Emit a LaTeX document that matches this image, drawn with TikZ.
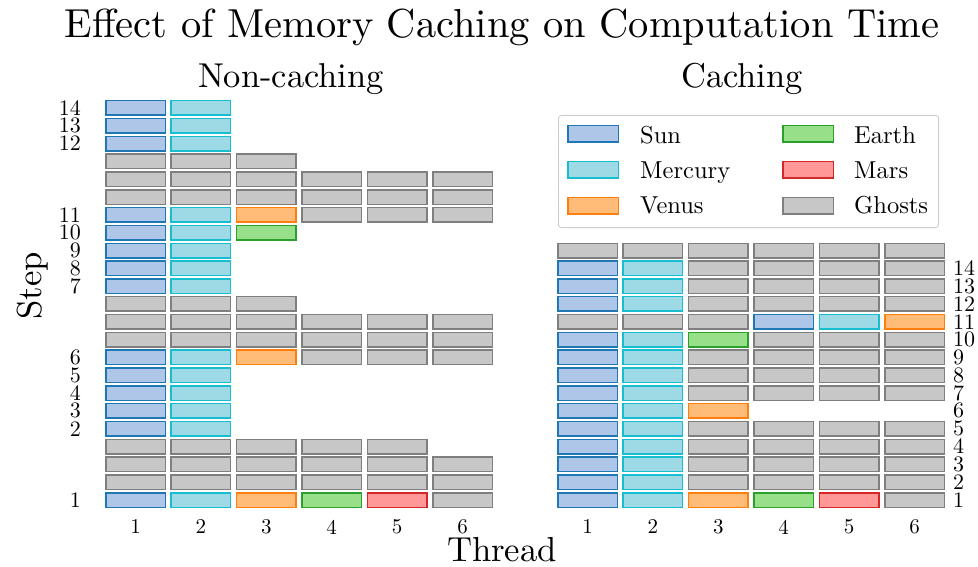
\documentclass[tikz,border=0pt]{standalone}
\usepackage{graphicx}
\usepackage{tikz}
\usetikzlibrary{positioning,calc}
\definecolor{sunline}{RGB}{31,119,180}
\definecolor{sunfill}{RGB}{174,199,232}
\definecolor{mercline}{RGB}{23,190,207}
\definecolor{mercfill}{RGB}{158,218,229}
\definecolor{venline}{RGB}{255,127,14}
\definecolor{venfill}{RGB}{255,187,120}
\definecolor{earthline}{RGB}{44,160,44}
\definecolor{earthfill}{RGB}{152,223,138}
\definecolor{marsline}{RGB}{214,39,40}
\definecolor{marsfill}{RGB}{255,152,150}
\definecolor{ghostline}{RGB}{127,127,127}
\definecolor{ghostfill}{RGB}{199,199,199}
\newlength{\bw}
\setlength{\bw}{59.5pt}
\newlength{\bh}
\setlength{\bh}{14.5pt}
% 10pt design size, scaled up
\newcommand{\cm}[2]{\scalebox{#1}{#2}}
\tikzset{
  cell/.style    ={draw,rectangle,line width=1.5pt,
                   minimum width=\bw,minimum height=\bh,inner sep=0pt},
  sun/.style     ={cell,draw=sunline,fill=sunfill},
  mercury/.style ={cell,draw=mercline,fill=mercfill},
  venus/.style   ={cell,draw=venline,fill=venfill},
  earth/.style   ={cell,draw=earthline,fill=earthfill},
  mars/.style    ={cell,draw=marsline,fill=marsfill},
  ghost/.style   ={cell,draw=ghostline,fill=ghostfill},
  swatch/.style  ={minimum width=50.5pt,minimum height=16.5pt},
  txt/.style     ={font=\fontsize{10}{12}\selectfont,inner sep=0pt},
  ttl/.style     ={txt,anchor=base},
  ticklab/.style ={txt},
  legtxt/.style  ={txt,anchor=base west}
}

\begin{document}
\begin{tikzpicture}[x=1pt,y=-1pt]
\useasboundingbox (0,0) rectangle (978,567);

\def\lx{135.5}
\def\rx{587.5}
\def\dx{65.4}
\def\dy{17.82}

\node[ttl] (title)   at (502,37.7) {\cm{4.05}{Effect of Memory Caching on Computation Time}};
\node[ttl] (nctitle) at (291,88) {\cm{3.45}{Non-caching}};
\node[ttl] (ctitle)  at (742,88) {\cm{3.45}{Caching}};

% non-caching panel
\foreach \r/\cells in {
    0/{sun,mercury,venus,earth,mars,ghost},
    1/{ghost,ghost,ghost,ghost,ghost,ghost},
    2/{ghost,ghost,ghost,ghost,ghost,ghost},
    3/{ghost,ghost,ghost,ghost,ghost},
    4/{sun,mercury}, 5/{sun,mercury}, 6/{sun,mercury}, 7/{sun,mercury},
    8/{sun,mercury,venus,ghost,ghost,ghost},
    9/{ghost,ghost,ghost,ghost,ghost,ghost},
    10/{ghost,ghost,ghost,ghost,ghost,ghost},
    11/{ghost,ghost,ghost},
    12/{sun,mercury}, 13/{sun,mercury}, 14/{sun,mercury},
    15/{sun,mercury,earth},
    16/{sun,mercury,venus,ghost,ghost,ghost},
    17/{ghost,ghost,ghost,ghost,ghost,ghost},
    18/{ghost,ghost,ghost,ghost,ghost,ghost},
    19/{ghost,ghost,ghost},
    20/{sun,mercury}, 21/{sun,mercury}, 22/{sun,mercury}}
  \foreach \k [count=\c] in \cells
    \node[\k] (nc-\r-\c) at ({\lx+(\c-1)*\dx},{500-\r*\dy}) {};

\foreach \r/\s in {0/1,4/2,5/3,6/4,7/5,8/6,12/7,13/8,14/9,15/10,16/11,20/12,21/13,22/14}
  \node[ticklab,anchor=east] (ncstep-\s) at (81,{500-\r*\dy}) {\cm{2.2}{\s}};

% caching panel
\foreach \r/\cells in {
    0/{sun,mercury,venus,earth,mars,ghost},
    1/{sun,mercury,ghost,ghost,ghost,ghost},
    2/{sun,mercury,ghost,ghost,ghost,ghost},
    3/{sun,mercury,ghost,ghost,ghost,ghost},
    4/{sun,mercury,ghost,ghost,ghost,ghost},
    5/{sun,mercury,venus},
    6/{sun,mercury,ghost,ghost,ghost,ghost},
    7/{sun,mercury,ghost,ghost,ghost,ghost},
    8/{sun,mercury,ghost,ghost,ghost,ghost},
    9/{sun,mercury,earth,ghost,ghost,ghost},
    10/{ghost,ghost,ghost,sun,mercury,venus},
    11/{sun,mercury,ghost,ghost,ghost,ghost},
    12/{sun,mercury,ghost,ghost,ghost,ghost},
    13/{sun,mercury,ghost,ghost,ghost,ghost},
    14/{ghost,ghost,ghost,ghost,ghost,ghost}}
  \foreach \k [count=\c] in \cells
    \node[\k] (c-\r-\c) at ({\rx+(\c-1)*\dx},{500-\r*\dy}) {};

\foreach \r [evaluate=\r as \s using int(\r+1)] in {0,...,13}
  \node[ticklab,anchor=west] (cstep-\s) at (953,{500-\r*\dy}) {\cm{2.2}{\s}};

% thread ticks
\foreach \c in {1,...,6} {
  \node[ticklab] (ncthr-\c) at ({\lx+(\c-1)*\dx},527) {\cm{2.1}{\c}};
  \node[ticklab] (cthr-\c)  at ({\rx+(\c-1)*\dx},527) {\cm{2.1}{\c}};
}

\node[ttl] (xlab) at (502,561) {\cm{3.47}{Thread}};
\node[ttl,rotate=90] (ylab) at (41,286) {\cm{3.47}{Step}};

% legend
\node[draw=black!20,line width=0.8pt,rounded corners=3pt,
      minimum width=380.2pt,minimum height=112.2pt] (legend) at (748.5,171.5) {};
\node[sun,swatch]     (lsun)   at (593,134) {};
\node[mercury,swatch] (lmerc)  at (593,170) {};
\node[venus,swatch]   (lven)   at (593,205.6) {};
\node[earth,swatch]   (learth) at (808,134) {};
\node[mars,swatch]    (lmars)  at (808,170) {};
\node[ghost,swatch]   (lghost) at (808,205.6) {};
\node[legtxt] (tsun)   at (640,143.3) {\cm{2.45}{Sun}};
\node[legtxt] (tmerc)  at (640,178.3) {\cm{2.45}{Mercury}};
\node[legtxt] (tven)   at (640,214) {\cm{2.45}{Venus}};
\node[legtxt] (tearth) at (854,143.3) {\cm{2.45}{Earth}};
\node[legtxt] (tmars)  at (854,178.3) {\cm{2.45}{Mars}};
\node[legtxt] (tghost) at (854,214) {\cm{2.45}{Ghosts}};

\end{tikzpicture}
\end{document}
